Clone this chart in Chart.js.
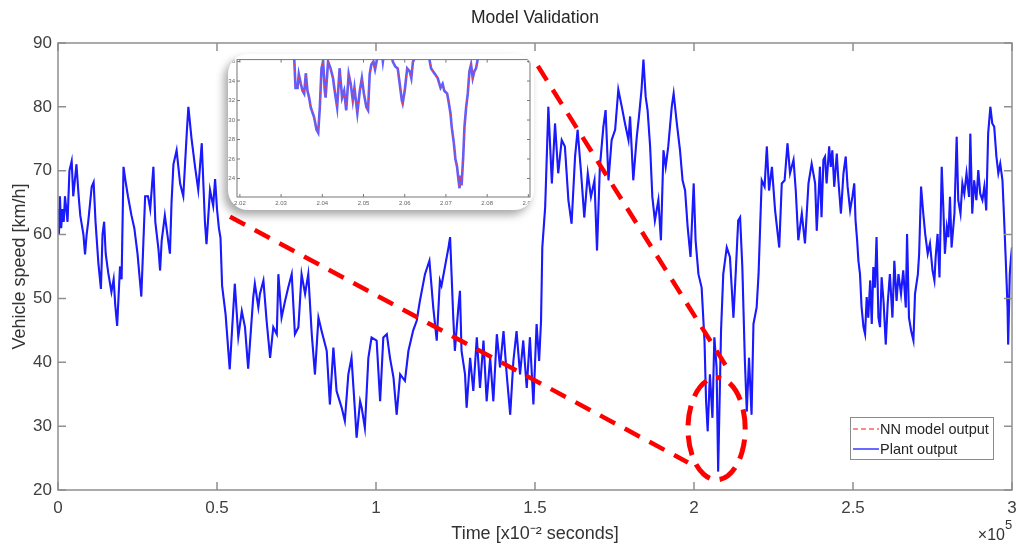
<!DOCTYPE html>
<html lang="en">
<head>
<meta charset="UTF-8">
<title>Model Validation</title>
<script src="https://cdn.jsdelivr.net/npm/chart.js"></script>
<style>
  html, body { margin: 0; padding: 0; background: #fff; }
  #wrap { position: relative; width: 1016px; height: 545px; }
  #inset {
    position: absolute; left: 228px; top: 54px; width: 306px; height: 156px;
    background: #fff; border-radius: 20px; overflow: hidden;
    box-shadow: -4px 5px 9px rgba(0, 0, 0, 0.35);
  }
  #insetChart { filter: blur(0.4px); }
</style>
</head>
<body>
<div id="wrap">
  <canvas id="mainChart" width="1016" height="545"></canvas>
  <div id="inset"><canvas id="insetChart" width="306" height="156"></canvas></div>
</div>

<script>
// time axis in units of 1e5 (x 1e-2 s), speed in km/h
const timeMain = [
  0.000,0.003,0.006,0.010,0.014,0.018,0.022,0.030,0.036,0.043,
  0.048,0.058,0.065,0.070,0.080,0.085,0.090,0.095,0.106,0.112,
  0.118,0.127,0.135,0.140,0.145,0.150,0.158,0.168,0.175,0.180,
  0.186,0.195,0.200,0.206,0.212,0.220,0.231,0.240,0.250,0.262,
  0.274,0.283,0.290,0.300,0.306,0.316,0.321,0.326,0.336,0.352,
  0.357,0.363,0.373,0.384,0.394,0.405,0.410,0.420,0.431,0.441,
  0.452,0.462,0.467,0.478,0.488,0.494,0.500,0.506,0.511,0.516,
  0.527,0.540,0.556,0.567,0.578,0.588,0.598,
  0.614,0.619,0.630,0.635,0.646,0.656,0.667,0.677,0.688,0.693,
  0.703,0.714,0.724,0.735,0.745,0.756,0.766,0.777,0.787,0.798,
  0.808,0.819,0.829,0.845,0.855,0.866,0.876,0.892,0.902,0.913,
  0.923,0.934,0.939,0.950,0.955,0.965,0.976,0.986,1.002,1.013,
  1.023,1.034,1.044,1.055,1.065,1.076,1.091,1.102,1.117,1.128,
  1.138,1.154,1.168,1.180,1.191,1.201,
  1.206,1.217,1.228,1.233,1.243,1.248,1.259,1.264,1.269,1.280,
  1.285,1.296,1.306,1.317,1.327,1.338,1.348,1.359,1.369,1.380,
  1.390,1.401,1.411,1.422,1.432,1.442,1.453,1.463,1.474,1.484,
  1.495,1.505,1.513,1.519,1.523,1.532,1.542,1.553,1.563,1.573,
  1.584,1.594,1.605,1.615,1.626,1.634,1.645,1.655,1.666,1.676,
  1.687,1.695,1.704,1.715,1.722,1.731,1.741,1.752,1.762,1.773,
  1.783,1.794,
  1.799,1.809,1.820,1.827,1.835,1.841,1.848,1.854,1.862,1.869,
  1.877,1.888,1.896,1.904,1.911,1.919,1.930,1.936,1.946,1.956,
  1.964,1.972,1.980,1.989,1.999,2.005,2.014,2.024,2.033,2.038,
  2.043,2.050,2.058,2.064,2.071,2.076,2.085,2.092,2.103,2.113,
  2.124,2.131,2.139,2.145,2.152,2.160,2.166,2.173,2.181,2.187,
  2.197,2.203,2.208,2.213,2.222,2.229,2.236,2.245,2.255,2.268,
  2.276,2.285,2.294,2.302,2.313,2.320,2.328,2.339,2.349,2.360,
  2.370,2.381,2.386,2.396,
  2.401,2.407,2.412,2.417,2.425,2.430,2.435,2.441,2.449,2.454,
  2.462,2.470,2.477,2.483,2.491,2.498,2.504,2.508,2.513,2.517,
  2.522,2.527,2.533,2.538,2.543,2.548,2.554,2.559,2.564,2.569,
  2.574,2.580,2.585,2.590,2.596,2.603,2.609,2.616,2.624,2.630,
  2.637,2.643,2.651,2.658,2.666,2.670,2.676,2.683,2.690,2.695,
  2.704,2.708,2.714,2.721,2.727,2.735,2.742,2.750,2.756,2.760,
  2.766,2.772,2.779,2.784,2.789,2.795,2.800,2.805,2.810,2.819,
  2.826,2.831,2.838,2.844,2.850,2.857,2.865,2.869,2.875,2.881,
  2.888,2.894,2.900,2.907,2.913,2.919,2.925,2.932,2.938,2.944,
  2.951,2.957,2.963,2.970,2.975,2.980,2.986,2.988,2.993,2.997,
  3.000
];

const speedPlant = [
  64,60,66,61,64,62,66,62,70,71.5,
  66,71,66,63,60,56.9,60,62,67.5,68.2,
  62,55.5,51.5,60,62,57,54,51,53,49,
  45.7,55,53,70.6,68.5,66,63,61,57,50.3,
  66,66,64,70.6,62,57.7,54.4,59,63,57,
  65,71,73.2,68,66,76,80,75,70.6,67,
  74.3,62,58.5,67,64.5,68.7,64,61,59.5,52,
  47.5,38.9,52.3,44,48,45.5,39,
  50.2,52.3,48.6,50.7,52.8,46.5,40.7,45.5,44.4,53.8,
  47.0,49.6,51.7,53.8,44.4,45.5,53.8,50.7,53.8,44.4,
  38.1,47.0,44.9,41.8,33.4,42.3,35.5,32.9,30.8,38.1,
  40.7,32.3,28.2,33.9,32.9,29.7,40.7,43.9,43.4,33.9,
  43.9,44.4,40.7,37.6,31.8,38.1,37.1,41.8,45.0,46.5,
  49.6,53.8,55.9,48.6,43.4,52.8,
  52,55,58,59.6,47.0,41.8,48.6,51.2,41.8,38.1,
  32.9,40.7,35.5,43.9,36.0,43.4,33.9,40.7,33.9,44.4,
  39.2,44.9,38.1,31.8,40.2,44.9,38.1,43.4,36.0,43.9,
  33.4,46.0,40.2,46.5,58.0,64.3,80.0,68.0,77.4,69.6,
  74.8,73.8,65.4,61.7,72.2,76.4,69.6,62.7,69.6,65.9,
  68.5,57.5,70.6,76.9,79.5,68.5,74.8,76.4,82.7,80.0,
  77.4,74.8,
  78.5,68.5,75.3,78.5,82.7,87.4,81.6,79.5,73.8,65.9,
  62.2,65.4,59.1,73.2,70.6,73.8,80.0,82.1,77.4,73.2,
  68.5,66.9,61.2,56.5,68.0,59.1,53.8,51.7,43.4,33.9,
  29.2,38.1,31.3,43.9,39.2,22.9,44.9,53.8,58.0,56.5,
  47.0,53.8,62.2,62.7,54.9,40.2,32.3,40.7,31.8,46.0,
  48.6,53.8,61.2,68.5,67.5,73.8,66.9,70.6,63.8,58.0,
  68.0,68.5,74.3,69.6,71.7,66.9,59.1,63.3,58.6,68.0,
  71.1,68.0,60.6,70.6,
  62.7,71.7,72.2,68.0,73.8,70.6,73.2,67.5,72.7,68.5,
  63.3,69.6,72.2,67.5,63.8,65.9,68.0,62.2,59.1,55.9,
  53.8,48.6,45.5,44.4,50.2,47.0,52.8,46.0,54.9,51.7,
  59.6,47.0,45.5,53.3,49.6,42.8,49.1,53.8,47.0,55.9,
  49.6,53.8,50.7,54.4,48.6,60.1,47.0,44.9,43.4,50.7,
  53.8,57.0,67.5,63.3,60.1,57.0,58.6,54.4,52.8,56.5,
  60.1,53.3,70.6,64.3,57.0,61.2,59.6,65.9,58.0,63.3,
  75.3,65.4,63.3,68.0,66.4,69.6,65.9,75.8,63.3,68.5,
  65.4,70.1,66.4,65.4,67.5,63.8,75.8,80.0,77.4,76.9,
  72.2,69.6,71.1,68.5,62.7,56.5,48.6,42.8,53.8,56.5,
  58.0
];
// the NN output sits on top of the plant trace at this scale
const speedModel = speedPlant;

// zoomed inset (2.02 - 2.09)
const timeInset = [
  2.0328,2.0332,2.0335,2.0340,2.0343,2.0348,2.0352,2.0356,2.0360,2.0364,
  2.0368,2.0372,2.0376,2.0380,2.0386,2.0390,2.0394,2.0398,2.0402,2.0406,
  2.0408,2.0414,2.0420,2.0426,2.0430,2.0436,2.0442,2.0448,2.0453,2.0458,
  2.0464,2.0469,2.0474,2.0478,2.0485,2.0491,2.0496,2.0501,2.0507,2.0511,
  2.0515,2.0519,2.0524,2.0528,2.0533,2.0540,2.0547,2.0555,2.0565,2.0571,
  2.0577,2.0583,2.0587,2.0593,2.0595,2.0600,2.0606,2.0612,2.0616,2.0620,
  2.0624,2.0635,2.0650,2.0660,2.0664,2.0672,2.0680,2.0687,2.0692,2.0696,
  2.0703,2.0706,2.0711,2.0714,2.0719,2.0723,2.0727,2.0730,2.0733,2.0735,
  2.0738,2.0742,2.0745,2.0749,2.0753,2.0757,2.0761,2.0765,2.0769,2.0773,
  2.0777,2.0782
];
const speedInset = [
  38,36.2,33.3,33.3,34.7,33.7,33.0,32.7,34.8,33.0,
  32.3,31.3,30.8,30.3,29.0,28.7,31.3,35.3,36.0,33.0,
  32.3,36.0,35.3,34.3,33.0,31.3,35.3,32.3,33.0,31.0,
  34.7,33.7,32.0,33.3,30.7,33.0,34.3,32.7,31.3,31.0,
  34.7,35.7,36.0,35.2,36.3,38.5,36.0,38.5,37.5,36.0,
  35.5,35.3,34.0,32.0,31.7,33.0,35.3,35.0,34.3,36.0,
  36.3,39,40,36.2,35.3,34.8,34.3,33.3,33.7,33.0,
  32.7,32.0,30.7,29.3,27.7,26.0,25.2,24.0,23.0,24.3,
  23.3,26.3,29.3,31.3,32.7,35.0,35.7,34.3,35.0,35.3,
  36.2,38
];

// callout lines and ellipse, in data units [x0, y0, x1, y1]
const calloutLines = [[0.541, 62.8, 1.981, 24.3], [1.509, 86.4, 2.101, 39.4]];
const ellipseCenter = [2.071, 29.6];
const ellipseRadius = [0.09, 8.0];

const toPoints = (xs, ys) => xs.map((x, i) => ({ x: x, y: ys[i] }));

Chart.defaults.font.family = '"Liberation Sans", Arial, Helvetica, sans-serif';
Chart.defaults.color = '#333';

// box + inward ticks, matlab style
const framePlugin = {
  id: 'matlabFrame',
  afterDatasetsDraw(chart, args, opts) {
    const { ctx, chartArea: a, scales: { x, y } } = chart;
    ctx.save();
    ctx.strokeStyle = opts.color;
    ctx.lineWidth = opts.width;
    ctx.strokeRect(a.left, a.top, a.right - a.left, a.bottom - a.top);
    ctx.beginPath();
    x.ticks.forEach(t => {
      const px = x.getPixelForValue(t.value);
      ctx.moveTo(px, a.bottom); ctx.lineTo(px, a.bottom - opts.tick);
      ctx.moveTo(px, a.top); ctx.lineTo(px, a.top + opts.tick);
    });
    y.ticks.forEach(t => {
      const py = y.getPixelForValue(t.value);
      ctx.moveTo(a.left, py); ctx.lineTo(a.left + opts.tick, py);
      ctx.moveTo(a.right, py); ctx.lineTo(a.right - opts.tick, py);
    });
    ctx.stroke();
    ctx.restore();
  }
};

// red zoom callout, legend box and the x10^5 exponent
const extrasPlugin = {
  id: 'extras',
  afterDatasetsDraw(chart) {
    const { ctx, chartArea: a, scales: { x, y } } = chart;
    ctx.save();

    ctx.strokeStyle = '#ff0000';
    ctx.lineWidth = 4.5;
    ctx.setLineDash([17, 11]);
    calloutLines.forEach(([x0, y0, x1, y1]) => {
      ctx.beginPath();
      ctx.moveTo(x.getPixelForValue(x0), y.getPixelForValue(y0));
      ctx.lineTo(x.getPixelForValue(x1), y.getPixelForValue(y1));
      ctx.stroke();
    });
    const cx = x.getPixelForValue(ellipseCenter[0]);
    const cy = y.getPixelForValue(ellipseCenter[1]);
    const rx = x.getPixelForValue(ellipseCenter[0] + ellipseRadius[0]) - cx;
    const ry = cy - y.getPixelForValue(ellipseCenter[1] + ellipseRadius[1]);
    ctx.lineWidth = 5;
    ctx.setLineDash([20, 10]);
    ctx.beginPath();
    ctx.ellipse(cx, cy, rx, ry, 0, -Math.PI * 0.35, Math.PI * 1.55);
    ctx.stroke();

    // legend
    const bw = 143, bh = 42;
    const bx = a.right - 19 - bw, by = a.bottom - 31 - bh;
    ctx.setLineDash([]);
    ctx.fillStyle = '#fff';
    ctx.fillRect(bx, by, bw, bh);
    ctx.strokeStyle = '#8a8a8a';
    ctx.lineWidth = 1;
    ctx.strokeRect(bx + 0.5, by + 0.5, bw, bh);
    ctx.font = '14.5px "Liberation Sans", Arial, sans-serif';
    ctx.textBaseline = 'middle';
    ctx.textAlign = 'left';
    chart.data.datasets.forEach((ds, i) => {
      const ly = by + 12 + i * 20;
      ctx.strokeStyle = ds.legendColor || ds.borderColor;
      ctx.lineWidth = 1.3;
      ctx.setLineDash(ds.borderDash || []);
      ctx.beginPath();
      ctx.moveTo(bx + 3, ly); ctx.lineTo(bx + 29, ly);
      ctx.stroke();
      ctx.fillStyle = '#262626';
      ctx.fillText(ds.label, bx + 30, ly + 1);
    });

    // exponent label under the x axis
    ctx.fillStyle = '#333';
    ctx.textBaseline = 'alphabetic';
    ctx.textAlign = 'right';
    ctx.font = '16px "Liberation Sans", Arial, sans-serif';
    ctx.fillText('\u00d710', a.right - 7, a.bottom + 50);
    ctx.textAlign = 'left';
    ctx.font = '13px "Liberation Sans", Arial, sans-serif';
    ctx.fillText('5', a.right - 7, a.bottom + 39);
    ctx.restore();
  }
};

new Chart(document.getElementById('mainChart').getContext('2d'), {
  type: 'line',
  data: {
    datasets: [
      {
        label: 'NN model output',
        data: toPoints(timeMain, speedModel),
        borderColor: 'rgba(255, 50, 50, 0.9)',
        legendColor: 'rgba(255, 80, 80, 0.9)',
        borderDash: [5, 3],
        borderWidth: 1,
        pointRadius: 0,
        order: 2
      },
      {
        label: 'Plant output',
        data: toPoints(timeMain, speedPlant),
        borderColor: '#1a1aff',
        borderWidth: 2.1,
        pointRadius: 0,
        order: 1
      }
    ]
  },
  options: {
    responsive: false,
    animation: false,
    events: [],
    layout: { padding: { left: 0, right: 4, top: 0, bottom: 0 } },
    plugins: {
      legend: { display: false },
      tooltip: { enabled: false },
      title: {
        display: true,
        text: 'Model Validation',
        fullSize: false,
        color: '#262626',
        font: { size: 17.5, weight: 'normal' },
        padding: { top: 8, bottom: 14 }
      },
      matlabFrame: { color: '#8f8f8f', width: 1.5, tick: 8 }
    },
    scales: {
      x: {
        type: 'linear',
        min: 0, max: 3,
        afterFit: s => { s.height = 55; s.paddingLeft = 0; s.paddingRight = 0; },
        grid: { display: false, drawTicks: false },
        border: { display: false },
        ticks: { stepSize: 0.5, padding: 8, font: { size: 17 }, color: '#404040',
                 maxRotation: 0, includeBounds: false, callback: v => String(v) },
        title: { display: true, text: 'Time [x10\u207b\u00b2 seconds]', color: '#333',
                 font: { size: 18 }, padding: { top: 0, bottom: 0 } }
      },
      y: {
        min: 20, max: 90,
        afterFit: s => { s.width = 58; },
        grid: { display: false, drawTicks: false },
        border: { display: false },
        ticks: { stepSize: 10, padding: 6, font: { size: 17 }, color: '#404040' },
        title: { display: true, text: 'Vehicle speed [km/h]', color: '#333',
                 font: { size: 18 }, padding: { top: 9, bottom: 0 } }
      }
    }
  },
  plugins: [framePlugin, extrasPlugin]
});

new Chart(document.getElementById('insetChart').getContext('2d'), {
  type: 'line',
  data: {
    datasets: [
      {
        label: 'NN model output',
        data: toPoints(timeInset, speedInset),
        borderColor: 'rgba(255, 60, 60, 0.9)',
        borderDash: [2, 5],
        borderWidth: 1.4,
        pointRadius: 0
      },
      {
        label: 'Plant output',
        data: toPoints(timeInset, speedInset),
        borderColor: 'rgba(40, 40, 255, 0.75)',
        borderWidth: 2.6,
        pointRadius: 0
      }
    ]
  },
  options: {
    responsive: false,
    animation: false,
    events: [],
    layout: { padding: { left: 0, right: 4, top: 3, bottom: 0 } },
    plugins: {
      legend: { display: false },
      tooltip: { enabled: false },
      matlabFrame: { color: '#777', width: 1, tick: 3 }
    },
    scales: {
      x: {
        type: 'linear',
        min: 2.0193, max: 2.0904,
        afterFit: s => { s.height = 13; s.paddingLeft = 0; s.paddingRight = 0; },
        grid: { display: false, drawTicks: false },
        border: { display: false },
        ticks: { stepSize: 0.01, padding: 3, font: { size: 6 }, color: '#666',
                 maxRotation: 0, includeBounds: false, autoSkip: false,
                 callback: v => v.toFixed(2) }
      },
      y: {
        min: 22.1, max: 36.2,
        afterFit: s => { s.width = 9; },
        grid: { display: false, drawTicks: false },
        border: { display: false },
        ticks: { stepSize: 2, padding: 2, font: { size: 6 }, color: '#666', includeBounds: false }
      }
    }
  },
  plugins: [framePlugin]
});
</script>
</body>
</html>
